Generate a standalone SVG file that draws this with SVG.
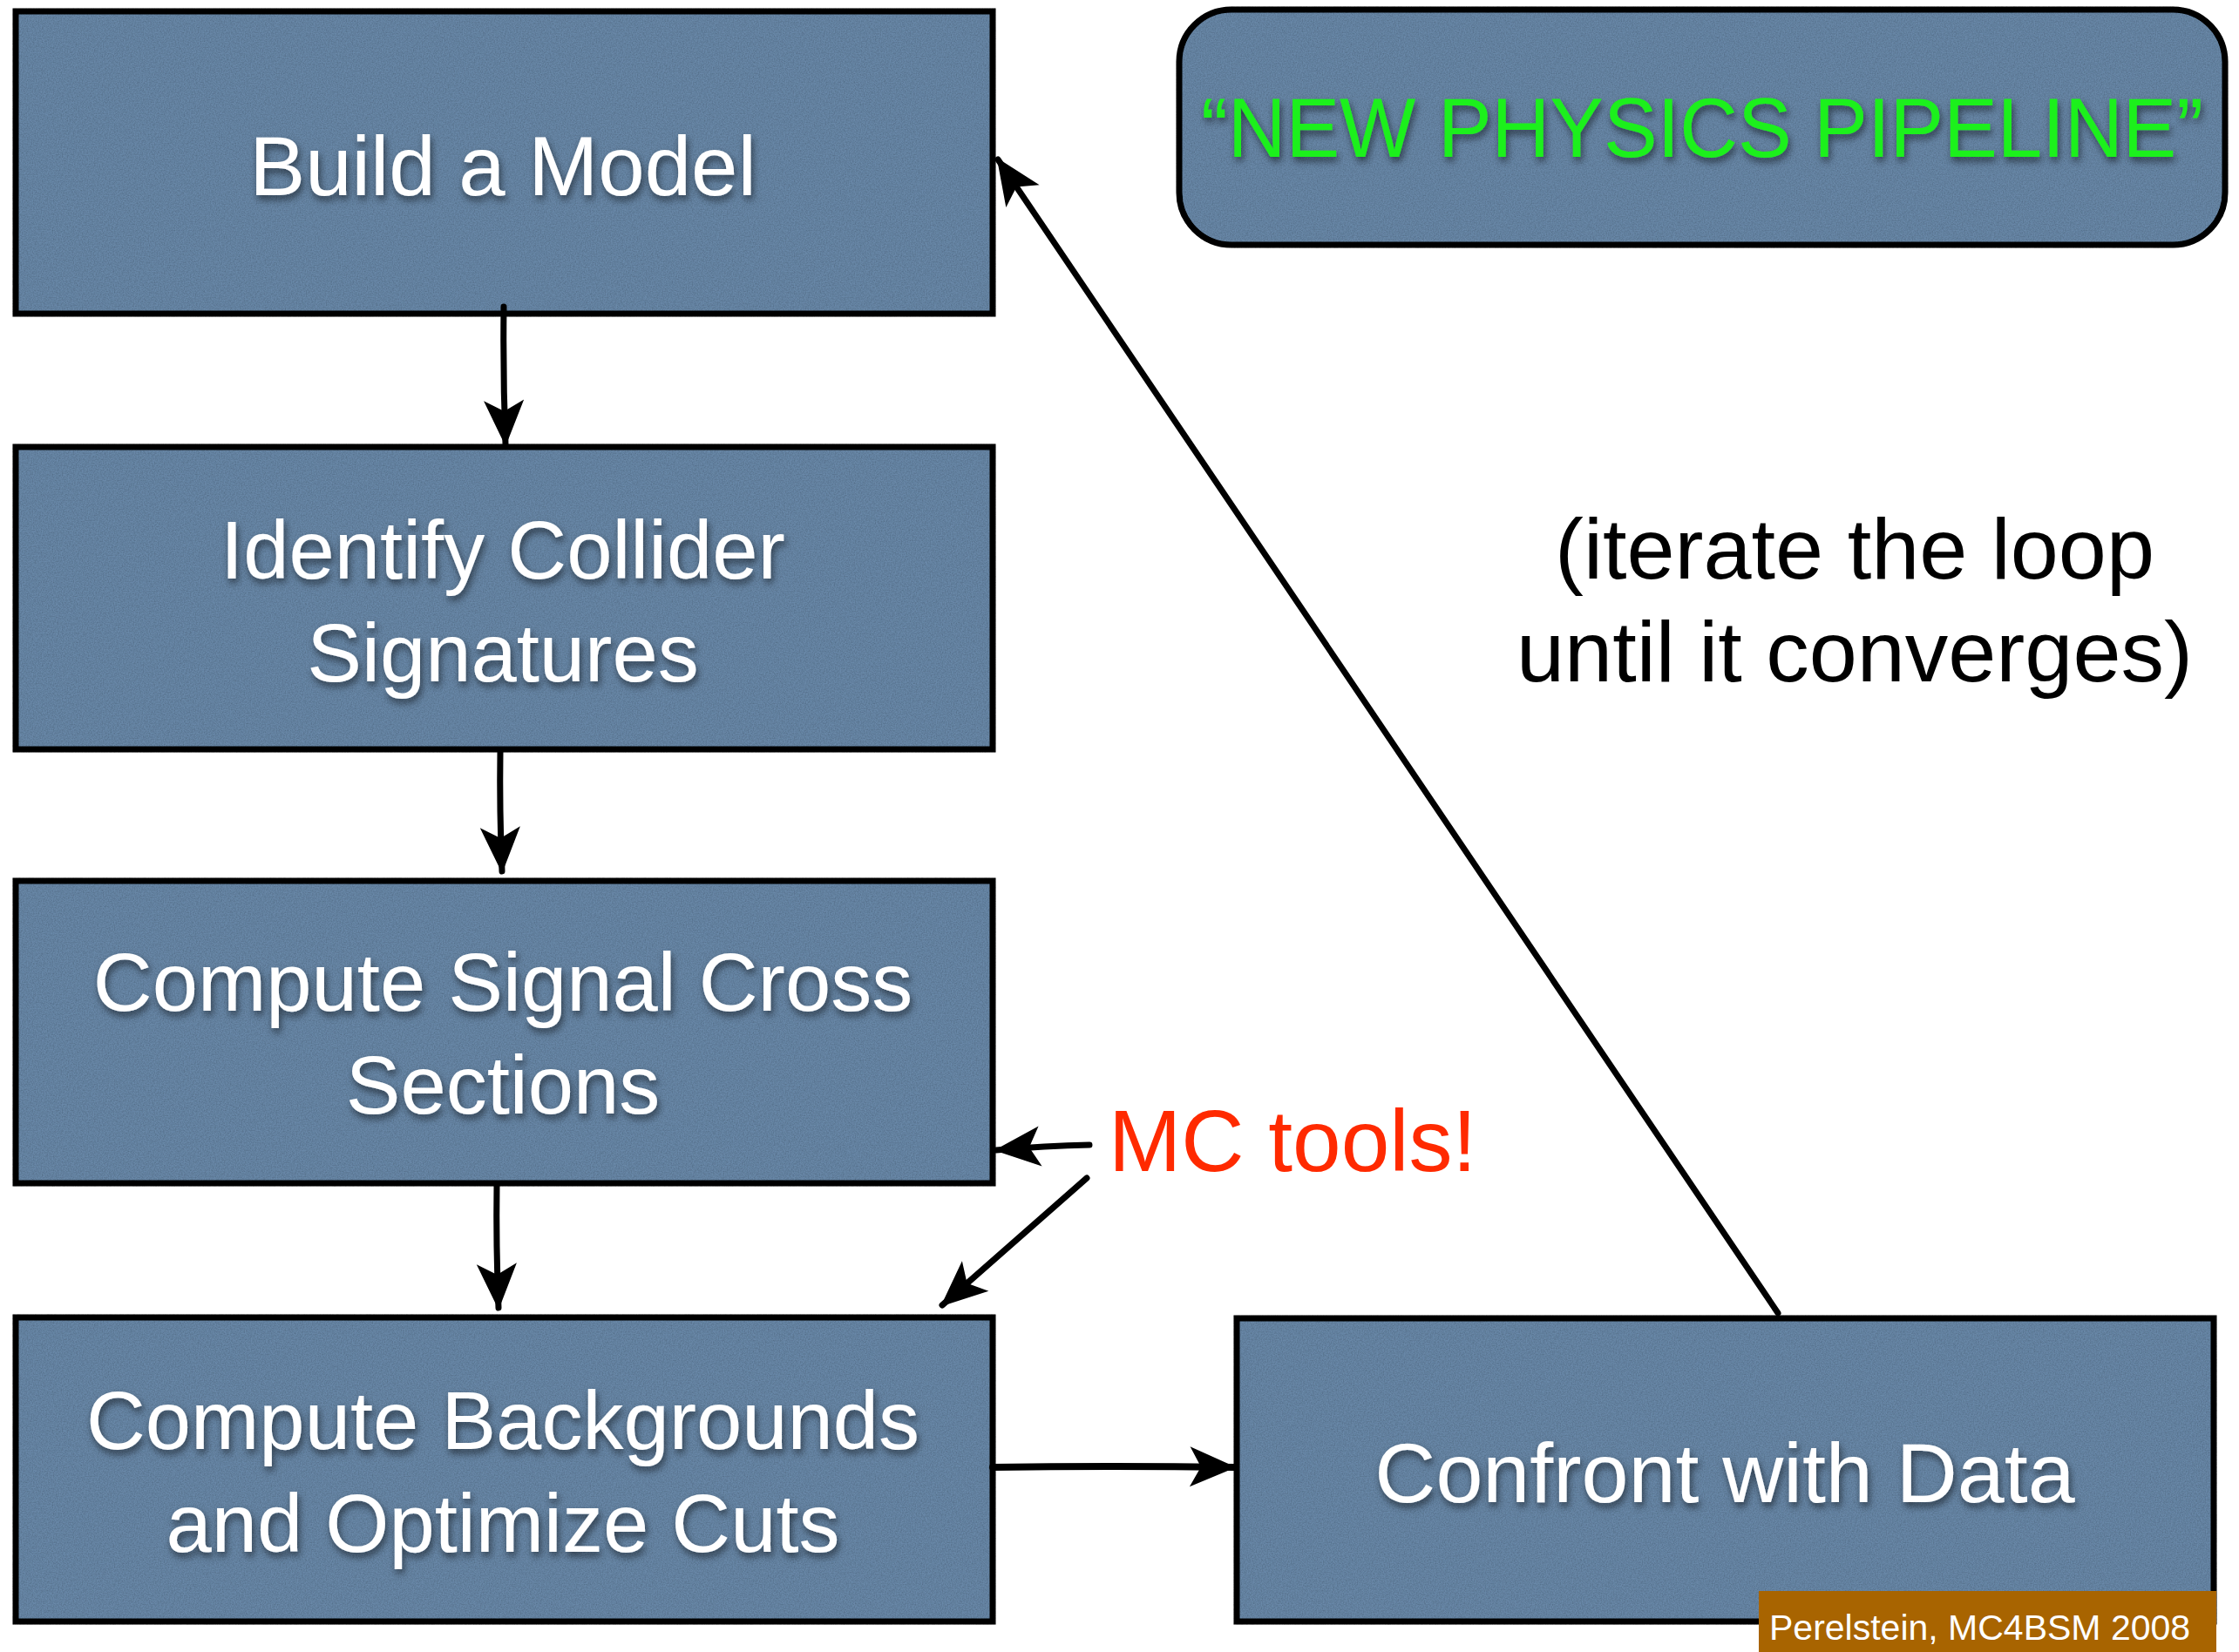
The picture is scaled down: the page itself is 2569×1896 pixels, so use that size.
<svg xmlns="http://www.w3.org/2000/svg" width="2569" height="1896" viewBox="0 0 2569 1896">
<style>
.box{fill:#6988a8;stroke:#000;stroke-width:7;filter:url(#grain)}
.lbl{font-family:"Liberation Sans",Arial,sans-serif;font-size:94px;fill:#fff;text-anchor:middle;filter:url(#shadow)}
.conn{fill:none;stroke:#000;stroke-width:7;stroke-linecap:round;marker-end:url(#ah)}
.note{font-family:"Liberation Sans",Arial,sans-serif;font-size:99px;fill:#000;text-anchor:middle}
</style>
<defs>
<marker id="ah" markerUnits="userSpaceOnUse" markerWidth="60" markerHeight="60" viewBox="-48 -26 52 52" refX="0" refY="0" orient="auto">
<path d="M2,0 L-44,-20 L-33,0 L-44,20 Z" fill="#000"/>
</marker>
<filter id="shadow" x="-10%" y="-20%" width="120%" height="150%">
<feDropShadow dx="2" dy="5" stdDeviation="4" flood-color="#000" flood-opacity="0.55"/>
</filter>
<filter id="grain" x="-3%" y="-5%" width="106%" height="110%">
<feTurbulence type="fractalNoise" baseFrequency="0.7" numOctaves="2" seed="4" result="n"/>
<feColorMatrix in="n" type="matrix" values="0 0 0 0 0  0 0 0 0 0  0 0 0 0 0  0 0 0 -0.6 0.42" result="na"/>
<feComposite in="na" in2="SourceGraphic" operator="in" result="m"/>
<feMerge><feMergeNode in="SourceGraphic"/><feMergeNode in="m"/></feMerge>
</filter>
</defs>
<rect width="2569" height="1896" fill="#fff"/>

<g id="build-model">
<rect class="box" x="18" y="13" width="1121" height="347"/>
<text class="lbl" x="577" y="224" style="font-size:96px">Build a Model</text>
</g>
<g id="identify-signatures">
<rect class="box" x="18" y="513" width="1121" height="347"/>
<text class="lbl" x="577" y="664">Identify Collider</text>
<text class="lbl" x="577" y="782">Signatures</text>
</g>
<g id="signal-xsec">
<rect class="box" x="18" y="1011" width="1121" height="347"/>
<text class="lbl" x="577" y="1160">Compute Signal Cross</text>
<text class="lbl" x="577" y="1278">Sections</text>
</g>
<g id="backgrounds">
<rect class="box" x="18" y="1512" width="1121" height="349"/>
<text class="lbl" x="577" y="1663">Compute Backgrounds</text>
<text class="lbl" x="577" y="1781">and Optimize Cuts</text>
</g>
<g id="confront">
<rect class="box" x="1419" y="1513" width="1121" height="348"/>
<text class="lbl" x="1979" y="1724" style="font-size:97px">Confront with Data</text>
</g>
<g id="title">
<rect class="box" x="1353" y="11" width="1200" height="270" rx="60" ry="60"/>
<text class="lbl" x="1953" y="180" style="fill:#1ef01e;font-size:96px" textLength="1150" lengthAdjust="spacingAndGlyphs">“NEW PHYSICS PIPELINE”</text>
</g>
<g id="iterate-note">
<text class="note" x="2128" y="664">(iterate the loop</text>
<text class="note" x="2128" y="782">until it converges)</text>
</g>
<g id="mc-tools">
<text x="1272" y="1344" style="font-family:'Liberation Sans',Arial,sans-serif;font-size:100px;fill:#ff2a00">MC tools!</text>
</g>
<g id="credit">
<rect x="2018" y="1826" width="525" height="70" fill="#a86400"/>
<text x="2030" y="1882" style="font-family:'Liberation Sans',Arial,sans-serif;font-size:41px;fill:#fff">Perelstein, MC4BSM 2008</text>
</g>

<g id="connectors">
<path class="conn" d="M578,352 Q577,430 580,510"/>
<path class="conn" d="M574,862 Q573,930 576,1000"/>
<path class="conn" d="M570,1360 Q569,1430 572,1501"/>
<path class="conn" style="stroke-width:8" d="M1139,1684 Q1280,1682 1416,1684"/>
<path class="conn" d="M2040,1507 L1145,183"/>
<path class="conn" d="M1250,1314 Q1200,1315 1143,1320"/>
<path class="conn" d="M1247,1352 L1081,1498"/>
</g>
</svg>
